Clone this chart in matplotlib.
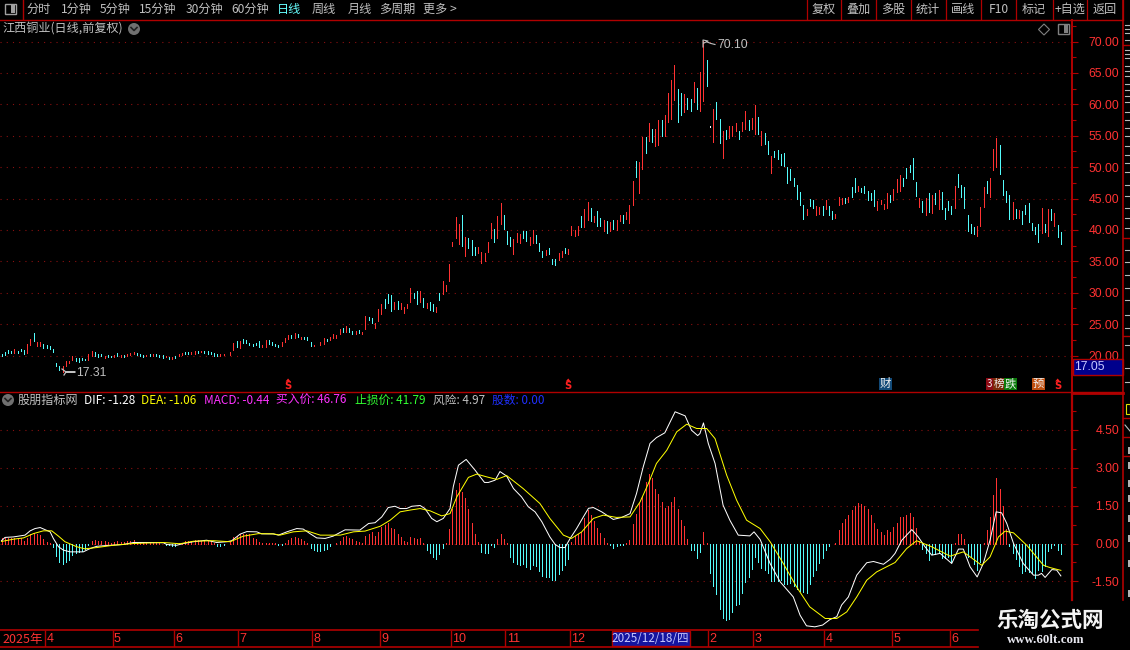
import matplotlib
matplotlib.use("Agg")
import matplotlib.pyplot as plt
from matplotlib.patches import Rectangle, Circle, Polygon

plt.rcParams['font.family'] = ['Noto Sans CJK SC', 'DejaVu Sans']

# ---- price bars (one per trading day) ----
highs = [
20.3,20.5,20.85,20.7,21.0,20.65,21.0,20.85,21.8,22.6,
23.55,22.1,22.1,21.8,21.65,21.5,21.0,18.8,18.3,18.3,
19.1,19.1,19.9,19.6,19.6,19.6,19.4,20.2,20.7,20.5,
20.2,20.2,19.9,20.05,19.9,20.05,20.37,20.05,20.05,20.2,
20.37,20.5,20.37,20.2,20.1,20.15,20.2,20.2,20.2,20.1,
20.05,19.9,19.8,19.8,19.9,20.3,20.37,20.58,20.53,20.53,
20.7,20.7,20.75,20.7,20.7,20.53,20.37,20.2,20.2,20.3,
20.3,20.53,21.96,22.28,22.28,22.6,22.44,21.96,21.85,21.96,
22.28,21.6,22.45,22.45,22.2,21.9,21.6,22.1,22.85,23.2,
23.2,23.65,23.5,23.0,23.0,23.0,22.1,21.75,21.75,22.1,
22.85,22.7,23.0,23.35,23.2,24.25,24.4,24.75,24.4,23.95,
23.95,24.1,23.8,26.3,26.15,26.0,25.2,27.4,28.2,28.95,
29.75,29.6,28.5,28.65,28.35,27.7,28.2,30.7,29.9,30.2,
30.35,29.1,28.35,28.5,28.2,27.7,29.9,31.8,31.3,34.6,
38.0,42.0,40.9,42.35,38.85,38.65,38.35,37.25,37.25,36.45,
36.3,38.0,41.05,40.1,42.2,44.25,42.35,39.8,38.85,38.5,
39.45,39.3,39.9,39.9,38.85,39.95,39.15,37.85,36.6,36.75,
37.05,35.3,35.3,36.3,36.6,37.05,36.9,40.6,39.95,40.6,
42.2,43.3,44.4,43.45,42.2,43.0,41.85,41.55,41.4,41.2,
41.55,41.55,42.35,42.35,42.8,43.95,47.75,50.95,50.8,54.75,
54.75,57.0,56.05,56.05,57.45,57.45,58.25,61.75,63.85,66.25,
62.4,61.75,61.6,61.0,60.8,63.5,62.55,65.1,70.1,67.05,
56.5,59.2,60.35,57.6,55.7,55.9,56.5,56.5,57.0,55.7,
57.15,58.9,57.45,57.8,59.85,57.95,55.7,55.4,54.1,51.75,
52.5,52.7,52.05,52.2,50.0,49.65,48.2,47.1,46.0,44.0,
43.4,44.95,44.8,43.85,43.7,43.85,44.8,43.85,43.05,42.6,
45.25,45.1,45.1,45.25,46.85,48.25,47.0,46.7,47.0,46.2,
45.9,46.35,44.65,44.8,44.15,45.9,45.6,46.55,48.1,48.75,
48.25,49.85,50.3,51.4,47.65,45.1,44.65,45.1,45.9,45.6,
45.9,46.35,46.05,43.55,44.65,43.85,47.0,48.9,47.15,46.85,
42.3,41.0,40.4,40.7,43.7,46.85,47.8,48.25,52.85,54.6,
53.45,47.95,46.2,45.6,44.5,43.4,43.2,43.05,44.0,44.3,
41.15,40.4,41.0,43.55,41.0,43.4,43.4,42.75,40.85,39.6]
lows = [
20.0,20.05,20.4,20.4,20.4,20.4,20.7,20.2,20.4,21.65,
22.3,21.5,21.5,21.2,21.2,21.05,20.5,18.4,17.65,17.31,
18.4,18.85,19.25,19.1,18.95,19.25,19.25,19.25,20.0,20.0,
19.75,19.85,19.6,19.75,19.75,19.75,19.9,19.75,19.75,19.9,
20.05,20.2,20.05,19.9,19.8,19.95,19.9,19.9,19.9,19.8,
19.57,19.7,19.47,19.42,19.57,19.85,20.05,20.2,20.2,20.3,
20.3,20.42,20.53,20.37,20.3,20.2,19.9,19.9,20.0,20.05,
20.2,20.15,20.85,21.33,21.17,21.96,21.96,21.7,21.53,21.64,
21.33,21.3,21.4,21.9,21.75,21.45,21.4,21.55,22.1,22.55,
22.85,22.85,23.0,22.55,22.55,22.4,21.45,21.45,21.6,21.75,
21.9,22.25,22.4,22.85,22.85,23.35,23.8,23.8,23.8,23.5,
23.5,23.65,23.5,24.25,25.7,25.2,24.4,25.5,26.6,27.55,
28.35,27.1,27.4,27.4,27.4,26.75,27.55,28.5,29.1,28.2,
28.5,27.7,27.55,27.25,27.1,26.9,28.8,29.75,30.2,31.8,
37.4,38.65,37.7,37.4,35.8,37.05,35.95,35.95,36.3,34.7,
35.0,36.45,38.65,38.0,38.65,40.9,40.1,37.7,37.4,36.1,
38.0,37.85,38.65,38.2,37.55,37.85,37.85,36.6,35.65,35.95,
36.1,34.5,34.35,35.15,35.65,36.3,36.1,39.15,39.0,39.15,
40.45,40.45,41.55,41.4,41.2,40.6,40.6,39.8,39.45,39.8,
40.1,39.95,41.4,41.05,41.7,41.05,43.95,48.4,45.85,49.65,
52.2,54.1,53.95,53.3,53.5,54.9,54.9,57.15,57.6,60.65,
57.15,58.25,58.75,59.2,58.9,60.35,59.2,58.9,60.5,62.9,
56.4,53.95,57.6,53.8,51.4,54.45,54.6,54.9,55.7,54.45,
55.7,56.05,55.9,56.05,55.25,55.25,53.5,53.65,52.05,49.0,
51.55,51.25,50.3,50.15,47.45,47.9,46.95,44.9,43.9,41.8,
42.3,43.85,43.55,42.3,42.6,42.45,43.4,42.45,41.8,41.95,
44.0,44.15,44.3,44.5,45.25,46.05,46.2,46.05,45.9,44.8,
44.8,43.85,43.2,44.15,43.4,43.55,44.5,44.8,46.05,46.2,
47.0,48.25,49.2,48.1,45.45,43.7,42.9,42.3,42.9,42.75,
44.15,43.4,43.4,41.8,43.2,42.6,43.55,46.85,45.25,43.55,
39.9,39.45,39.3,39.1,40.7,43.7,45.9,45.25,49.55,50.0,
48.9,45.6,44.5,41.8,41.8,41.95,41.95,41.0,42.6,41.3,
40.05,39.3,38.15,39.45,39.6,39.1,41.65,40.55,38.8,37.7]
# 1 rising, 0 falling, 2 unchanged
rising = [
0,0,0,0,1,0,0,0,1,1,
0,1,1,0,0,0,0,0,0,1,
1,1,1,0,0,0,0,1,1,0,
0,0,1,0,0,1,0,1,0,1,
1,1,0,0,0,1,0,1,0,0,
0,1,0,1,0,1,1,0,0,1,
1,0,1,0,0,0,0,0,1,1,
1,1,1,0,1,0,0,0,0,0,
0,1,1,0,0,0,0,1,1,1,
0,1,0,1,0,0,0,1,1,1,
1,0,1,1,1,1,0,1,0,0,
1,0,1,1,0,0,1,1,1,0,
0,0,1,0,1,1,1,1,0,0,
1,0,1,0,0,1,0,1,1,1,
1,1,1,0,1,0,0,0,1,1,
1,1,1,0,1,1,0,0,0,1,
1,1,0,0,1,1,0,0,0,1,
0,0,0,1,1,0,1,1,1,1,
0,1,1,0,1,0,0,1,0,1,
0,1,1,0,1,1,1,0,1,1,
0,1,0,1,1,0,1,1,1,1,
0,0,1,0,0,1,0,1,1,0,
2,1,0,0,1,0,1,1,1,0,
1,1,0,1,1,0,1,0,0,1,
0,0,0,0,0,0,0,0,0,0,
1,0,0,1,1,0,1,0,0,1,
1,1,0,1,0,0,1,0,0,0,
0,0,1,1,1,1,0,1,1,1,
0,0,0,0,0,1,0,1,0,1,
0,1,0,0,0,0,1,0,0,0,
0,0,0,1,1,1,0,1,1,1,
0,0,0,0,1,0,1,0,0,0,
0,0,0,1,0,1,0,1,0,0]

# ---- MACD histogram (one per trading day) ----
macd_hist = [
.20,.22,.22,.22,.21,.22,.20,.09,.22,.36,
.43,.36,.33,.16,.07,.03,-.12,-.49,-.75,-.82,
-.75,-.66,-.46,-.39,-.33,-.29,-.21,-.04,.11,.13,
.11,.09,.08,.04,.01,.07,.09,.07,.05,.08,
.09,.12,.07,.03,.03,.04,.05,.05,.04,.03,
-.03,-.04,-.04,-.08,-.08,.01,.03,.08,.09,.11,
.13,.12,.11,.12,.11,.08,.01,-.08,-.09,-.05,
-.03,.07,.24,.29,.36,.39,.37,.36,.22,.16,
.07,.03,.01,.01,.01,.01,-.05,-.05,.01,.13,
.20,.24,.21,.16,.11,.01,-.18,-.26,-.30,-.30,
-.26,-.20,-.08,-.03,.01,.11,.24,.30,.22,.16,
.11,.07,.03,.29,.39,.45,.29,.45,.66,.72,
.80,.63,.59,.39,.25,.11,.07,.25,.20,.17,
.21,.01,-.26,-.37,-.53,-.61,-.42,-.18,.01,.59,
1.38,2.11,2.38,2.04,1.79,1.36,.80,.37,.07,-.34,
-.39,-.37,-.07,-.13,.16,.37,.16,.01,-.53,-.72,
-.79,-.83,-.79,-.92,-1.0,-.83,-.88,-1.07,-1.29,-1.32,
-1.32,-1.45,-1.45,-1.22,-1.05,-.86,-.62,.05,.30,.37,
.47,.99,1.34,1.12,.88,.62,.42,.22,.03,-.04,
-.16,-.09,-.05,-.04,.01,.13,.76,1.18,1.58,1.84,
2.43,2.74,2.57,2.17,1.97,1.63,1.39,1.47,1.63,1.83,
1.36,.92,.68,.17,-.26,-.26,-.58,-.34,.45,.01,
-1.18,-1.67,-2.01,-2.59,-2.96,-3.03,-3.0,-2.70,-2.43,-2.37,
-1.95,-1.51,-1.32,-.99,-.53,-.72,-.96,-1.05,-1.18,-1.47,
-1.47,-1.47,-1.45,-1.61,-1.58,-1.54,-1.68,-1.78,-1.87,-1.91,
-1.95,-1.61,-1.28,-1.05,-.76,-.57,-.26,-.11,-.03,.01,
.53,.80,.96,1.12,1.32,1.50,1.58,1.55,1.49,1.36,
1.12,.80,.59,.46,.33,.53,.45,.66,.82,1.03,
1.05,1.14,1.22,1.04,.62,.09,-.20,-.39,-.66,-.42,
-.42,-.37,-.57,-.59,-.53,-.74,.01,.37,.37,.16,
-.53,-.53,-.79,-1.05,-.72,.03,.53,1.03,1.91,2.58,
2.14,1.50,.59,-.11,-.37,-.61,-.89,-1.16,-1.08,-1.12,
-1.18,-1.36,-1.05,-1.08,-.89,-.29,-.16,-.04,-.26,-.42]

# ---- DIF and DEA, read at the turning points of each line ----
dif_day = [0,1.1,3.7,7.3,8.9,10.4,12,13.5,15.1,16.1,17.7,19.2,21.3,25.4,27.5,29.6,32.7,37.8,41,45.1,50.3,51.3,54.4,56.5,59.6,63.7,66.8,70,71.5,74.1,76.2,79.3,80.8,84.4,86,88.6,91.7,93.7,95.8,97.9,100.5,103,106.7,111.3,114,116,118.1,120.1,122.2,123.8,
125.8,127.4,130,131.5,133.6,135.2,137.2,139.3,140.3,141.9,144.3,147.1,150,151.2,153.3,154.8,156.9,159,161.5,163.6,165.7,167.8,170.3,171.9,173.4,175,176.6,178.6,180.7,182.3,183.8,186.4,190,192.6,195.2,197.2,199.3,201.4,203.4,206,209.2,212.3,214.3,216.2,216.9,218,219.5,221.6,224.1,226.2,228.8,232.4,233.7,235.6,
238.7,241.8,245.9,248,250,252.6,255,257.3,259.4,260.9,263,265.6,268.7,270.8,273.9,276,277.5,279.6,282.7,284.7,286.8,288.9,291.5,295.1,297.2,298.7,300.8,303,304.9,307,308.9,310.6,312.2,314.3,317.3,320.5,322,323,324.1,326.2,327.7,329]
dif_val = [.11,.24,.26,.33,.50,.59,.63,.55,.46,.20,-.13,-.26,-.33,-.33,-.20,-.11,-.08,-.04,.04,.04,.03,-.04,-.07,0,.07,.13,.04,.07,.11,.37,.47,.46,.38,.38,.33,.46,.59,.57,.39,.22,.20,.29,.54,.53,.79,.82,1.05,1.42,1.47,1.38,
1.38,1.47,1.50,1.38,.99,.86,.99,1.38,2.24,3.09,3.32,2.89,2.41,2.41,2.5,2.84,2.66,2.17,1.84,1.45,1.25,.86,.26,-.03,-.16,-.16,.20,.59,1.05,1.39,1.42,1.25,.95,1.03,1.18,1.97,3.03,3.95,4.18,4.37,5.2,5.04,4.47,4.26,4.34,4.76,3.95,3.16,1.51,.92,.33,.30,.46,.16,
-.79,-1.51,-2.11,-2.83,-3.25,-3.29,-3.22,-3.0,-2.89,-2.43,-2.11,-1.25,-.76,-.71,-.82,-.62,-.39,.13,.55,.26,-.13,-.46,-.39,-.79,-.22,-.22,-.92,-1.32,-.79,.13,1.25,1.21,.79,0,-.79,-1.25,-1.25,-1.18,-1.34,-1.03,-1.05,-1.28]
dea_day = [0,3.7,6.8,9.9,13,15.6,17.7,19.7,23.4,25.9,29.6,34.7,41,50.3,55.4,59.6,65.8,71,75.1,79.8,84.4,86.5,90.6,94.8,99,105.2,109.3,112.9,117.6,120.7,123.8,
126.9,130,133.1,136.7,139.3,141.4,145,147.6,150.7,153.8,156.9,162,167.2,170.3,174.5,177,180.2,183.8,186.9,191,195.2,198.3,200.9,203.4,206.6,209.7,212.8,215.9,219,221.6,225.2,228.3,231.4,235.6,
238.7,242.8,246.9,251,255.8,259.4,262.5,265.6,268.7,271.8,277.5,281.1,284.2,288.9,294.6,298.7,304.4,307,309.6,311.7,314.3,318.4,323.6,325.6,329]
dea_val = [.08,.17,.22,.39,.50,.50,.29,.07,-.13,-.21,-.16,-.07,0,.04,-.01,.09,.11,.07,.29,.39,.38,.33,.46,.50,.33,.33,.46,.49,.68,.92,1.25,
1.32,1.38,1.29,1.09,1.18,1.84,2.61,2.74,2.63,2.53,2.68,2.17,1.58,.99,.33,.20,.46,.99,1.12,1.03,1.05,1.64,2.37,3.16,3.68,4.41,4.71,4.54,4.54,4.14,2.70,1.71,.92,.59,
.07,-.79,-1.71,-2.5,-2.96,-2.96,-2.70,-2.11,-1.45,-1.12,-.75,-.20,.11,-.13,-.50,-.33,-.86,-.53,.26,.49,.42,-.07,-.86,-.95,-1.06]

# ---- labels ----
price_ticks = [20, 25, 30, 35, 40, 45, 50, 55, 60, 65, 70]
macd_ticks = [4.5, 3.0, 1.5, 0.0, -1.5]
month_labels = ['4', '5', '6', '7', '8', '9', '10', '11', '12', '2', '3', '4', '5', '6']
month_days = [14, 35, 54, 74, 97, 118, 140, 157, 177, 220, 234, 256, 277, 295]
toolbar_left = ['分时', '1分钟', '5分钟', '15分钟', '30分钟', '60分钟', '日线', '周线', '月线', '多周期', '更多 >']
toolbar_left_pos = [39, 76, 115, 158, 204, 250, 289, 324, 360, 397, 440]
toolbar_right = ['复权', '叠加', '多股', '统计', '画线', 'F10', '标记', '+自选', '返回']
toolbar_right_pos = [824, 858, 893, 928, 963, 999, 1034, 1070, 1105]
toolbar_seps = [807, 841, 876, 911, 946, 981, 1016, 1053, 1087, 1123]
legend_text = ['DIF: -1.28', 'DEA: -1.06', 'MACD: -0.44', '买入价: 46.76', '止损价: 41.79', '风险: 4.97', '股数: 0.00']
legend_pos = [84, 141, 204, 276, 355, 433, 492]
signal_days = [89, 176, 328]

assert len(highs) == len(lows) == len(rising) == len(macd_hist) == 330
assert len(dif_day) == len(dif_val) and len(dea_day) == len(dea_val)

BG = '#000000'; BORDER = '#B00000'; DOT = '#8A1010'; RED = '#FF3232'; CYAN = '#54FCFC'
GRAY = '#C0C0C0'; WIDTH, HEIGHT = 1130, 650
BAR_PX, BAR_X0 = 3.22, 1.5
BAR_LW = 0.62

fig = plt.figure(figsize=(11.3, 6.5), dpi=100, facecolor=BG)


def axes_px(x0, y0, x1, y1, **kw):
    return fig.add_axes([x0 / WIDTH, 1 - y1 / HEIGHT, (x1 - x0) / WIDTH, (y1 - y0) / HEIGHT], facecolor=BG, **kw)


def style_axis(ax, ticks, minors, fmt, ylim):
    ax.set_xlim(-BAR_X0 / BAR_PX, (1072 - BAR_X0) / BAR_PX)
    ax.set_ylim(*ylim)
    for s in ('top', 'left', 'bottom'):
        ax.spines[s].set_visible(False)
    ax.spines['right'].set_color(BORDER)
    ax.spines['right'].set_linewidth(1.4)
    ax.set_xticks([])
    ax.yaxis.tick_right()
    ax.set_yticks(ticks)
    ax.set_yticklabels([fmt % t for t in ticks], fontsize=8.8, color=RED, ha='right', family='Liberation Sans')
    ax.set_yticks(minors, minor=True)
    ax.tick_params(axis='y', which='major', length=4.5, width=0.8, color=BORDER, pad=29.5)
    ax.tick_params(axis='y', which='minor', length=3, width=0.8, color=BORDER)
    ax.hlines(ticks, ax.get_xlim()[0], ax.get_xlim()[1], colors=DOT, linewidth=0.8, linestyles=(0, (1, 4.6)), zorder=1)


# price panel
ax_p = axes_px(0, 20, 1072, 391)
ylim_p = (70 - (391 - 41.5) / 6.28, 70 + (41.5 - 20) / 6.28)
style_axis(ax_p, price_ticks, [t + 2.5 for t in price_ticks], '%.2f', ylim_p)
days = list(range(len(highs)))
colors = [RED if r == 1 else (CYAN if r == 0 else '#FFFFFF') for r in rising]
ax_p.vlines(days, lows, highs, colors=colors, linewidth=BAR_LW, antialiased=False, zorder=3)
ax_p.set_xlim(-BAR_X0 / BAR_PX, (1072 - BAR_X0) / BAR_PX)

# MACD panel
ax_m = axes_px(0, 392, 1072, 600)
ylim_m = ((543.5 - 600) / 25.33, (543.5 - 392) / 25.33)
style_axis(ax_m, macd_ticks, [t + 0.75 for t in macd_ticks[1:]] + [5.25, -2.25], '%.2f', ylim_m)
hist_colors = [RED if v > 0 else CYAN for v in macd_hist]
ax_m.vlines(days, [0] * len(days), macd_hist, colors=hist_colors, linewidth=BAR_LW, antialiased=False, zorder=3)
ax_m.set_ylim(*ylim_m)

# lower part of MACD panel (left of the watermark)
ax_l = axes_px(0, 600, 978, 630)
ax_l.set_xlim(-BAR_X0 / BAR_PX, (978 - BAR_X0) / BAR_PX)
ax_l.set_ylim((543.5 - 630) / 25.33, (543.5 - 600) / 25.33)
ax_l.axis('off')
ax_l.vlines(days, [0] * len(days), macd_hist, colors=hist_colors, linewidth=BAR_LW, antialiased=False, zorder=3)
for a in (ax_m, ax_l):
    a.plot(dif_day, dif_val, color='#FFFFFF', linewidth=0.72, antialiased=True, zorder=4)
    a.plot(dea_day, dea_val, color='#FFFF00', linewidth=0.72, antialiased=True, zorder=5)
ax_m.set_xlim(-BAR_X0 / BAR_PX, (1072 - BAR_X0) / BAR_PX)
ax_l.set_xlim(-BAR_X0 / BAR_PX, (978 - BAR_X0) / BAR_PX)

# date strip
ax_d = axes_px(0, 630, 978, 647)
ax_d.set_xlim(-BAR_X0 / BAR_PX, (978 - BAR_X0) / BAR_PX)
ax_d.set_ylim(1, 0)
ax_d.set_xticks([]); ax_d.set_yticks([])
for s in ('left', 'right'):
    ax_d.spines[s].set_visible(False)
for s in ('top', 'bottom'):
    ax_d.spines[s].set_color(BORDER); ax_d.spines[s].set_linewidth(1.2)
ax_d.text(0.2, 0.55, '2025年', color=RED, fontsize=9, va='center', ha='left')
for lab, d in zip(month_labels, month_days):
    ax_d.vlines(d - 0.5, 0, 1, color=BORDER, linewidth=1)
    ax_d.text(d - 0.1, 0.55, lab, color=RED, fontsize=9, va='center', ha='left', family='Liberation Sans')

# everything else in pixel coordinates
ui = fig.add_axes([0, 0, 1, 1], facecolor='none')
ui.set_xlim(0, WIDTH); ui.set_ylim(HEIGHT, 0); ui.axis('off')
ui.set_zorder(10)
ui.plot([0, 1123], [19.5, 19.5], color=BORDER, lw=1)
ui.plot([0, 1123], [391.5, 391.5], color=BORDER, lw=1)
ui.plot([1072, 1123], [392.5, 392.5], color=BORDER, lw=2)
ui.plot([1123, 1123], [0, 600], color=BORDER, lw=1.2)
ui.plot([1072, 1072], [391, 600], color=BORDER, lw=1.6)
ui.plot([23, 23], [0, 19], color=BORDER, lw=1)
for x in toolbar_seps:
    ui.plot([x, x], [0, 19], color=BORDER, lw=0.9)

ui.add_patch(Rectangle((5, 4), 11, 10, fill=False, ec='#A0A0A0', lw=1))
ui.add_patch(Rectangle((11, 5), 4, 8, fc='#A0A0A0', ec='none'))
ui.add_patch(Rectangle((1058, 24), 11, 10, fill=False, ec='#808080', lw=1))
ui.add_patch(Rectangle((1064, 25), 4, 8, fc='#808080', ec='none'))
ui.add_patch(Polygon([(1044, 24), (1049.5, 29.5), (1044, 35), (1038.5, 29.5)], fill=False, ec='#808080', lw=0.8))

for t, x in zip(toolbar_left, toolbar_left_pos):
    ui.text(x, 9.5, t, color='#66FFFF' if t == '日线' else GRAY, fontsize=8.7, ha='center', va='center')
for t, x in zip(toolbar_right, toolbar_right_pos):
    ui.text(x, 9.5, t, color=GRAY, fontsize=8.7, ha='center', va='center')

ui.text(2, 29, '江西铜业(日线,前复权)', color=GRAY, fontsize=8.7, ha='left', va='center')
for cx, cy in [(134, 29), (8, 400)]:
    ui.add_patch(Circle((cx, cy), 6, fc='#707070', ec='none'))
    ui.plot([cx - 3, cx, cx + 3], [cy - 1.5, cy + 1.5, cy - 1.5], color='#202020', lw=1.2)

ui.text(18, 404, '股朋指标网', color=GRAY, fontsize=8.7, ha='left', va='baseline')
legend_colors = ['#FFFFFF', '#FFFF00', '#FF32FF', '#FF32FF', '#32FF32', GRAY, '#2030FF']
for t, x, c in zip(legend_text, legend_pos, legend_colors):
    ui.text(x, 404, t, color=c, fontsize=8.5, ha='left', va='baseline')

# extreme price notes
ui.plot([62, 66, 75, 66, 64], [369, 372, 372, 372, 375], color=GRAY, lw=0.9)
ui.text(76, 373.5, '17.31', color=GRAY, fontsize=8.7, ha='left', va='center', family='Liberation Sans')
ui.plot([703, 703, 708, 704], [47, 40, 41, 43], color=GRAY, lw=0.8)
ui.plot([707, 711, 715], [42, 43.5, 44.5], color=GRAY, lw=0.8)
ui.text(717, 45.5, '70.10', color=GRAY, fontsize=8.7, ha='left', va='center', family='Liberation Sans')

# latest price box
ui.add_patch(Rectangle((1072.5, 359), 50, 15.5, fc='#00008C', ec=BORDER, lw=1))
ui.text(1074, 366.8, '17.05', color='#C8C8FF', fontsize=8.8, ha='left', va='center', family='Liberation Sans')

# event badges
for d in signal_days:
    x = BAR_X0 + BAR_PX * d
    ui.add_patch(Polygon([(x - 2.5, 381.5), (x, 378.5), (x + 2.5, 381.5)], fc='#FF2020', ec='none'))
    ui.text(x, 386, 'S', color='#FF2020', fontsize=7.2, weight='bold', ha='center', va='center', family='DejaVu Sans')
badges = [('财', 879, 13, '#124A78', 8.2), ('3', 986, 7, '#8C0A14', 7), ('榜', 993, 11, '#7A2A08', 7.6), ('跌', 1004, 13, '#0A7A0A', 8.2), ('预', 1032, 13, '#C05010', 8.2)]
for t, x, w, c, fs in badges:
    ui.add_patch(Rectangle((x, 378), w, 12, fc=c, ec='none'))
    ui.text(x + w / 2, 383.8, t, color='#F0F0F0', fontsize=fs, ha='center', va='center')

# selected date box
ui.add_patch(Rectangle((611.5, 631), 78.5, 14.5, fc='#1414A0', ec=BORDER, lw=1))
ui.text(650.5, 638.5, '2025/12/18/四', color='#C8C8FF', fontsize=8.4, ha='center', va='center')

# side panel: unreadable fragments at the picture's edge, drawn as small dashes
for y in [25, 29, 33, 40, 50, 54, 58, 66, 71, 76, 84, 90, 96, 102, 112, 120, 128, 136, 146, 155, 163, 172, 185, 196, 208, 218, 228, 250, 262, 275, 288, 300, 315, 328, 345, 368, 382]:
    ui.plot([1125, 1130], [y, y], color='#B8B8B8', lw=0.8)
for y in [45, 238, 336, 418, 437, 456]:
    ui.plot([1123, 1130], [y, y], color=BORDER, lw=1)
ui.add_patch(Rectangle((1126, 404), 4, 10, fill=False, ec='#E0E000', lw=0.8))
ui.plot([1125, 1130], [425, 431], color=GRAY, lw=0.8)
for y in [447, 462, 480, 495, 515, 535, 560, 590]:
    ui.add_patch(Rectangle((1128, y), 2, 7, fc='#B0B0B0', ec='none'))

# watermark
ui.text(1050, 620, '乐淘公式网', color='#F4F4F4', fontsize=15.5, weight='bold', ha='center', va='center')
ui.text(1046, 640, 'www.60lt.com', color='#E8E8F0', fontsize=9.3, weight='bold', ha='center', va='center', family='Liberation Serif')

fig.savefig('out.png', dpi=100, facecolor=BG)
